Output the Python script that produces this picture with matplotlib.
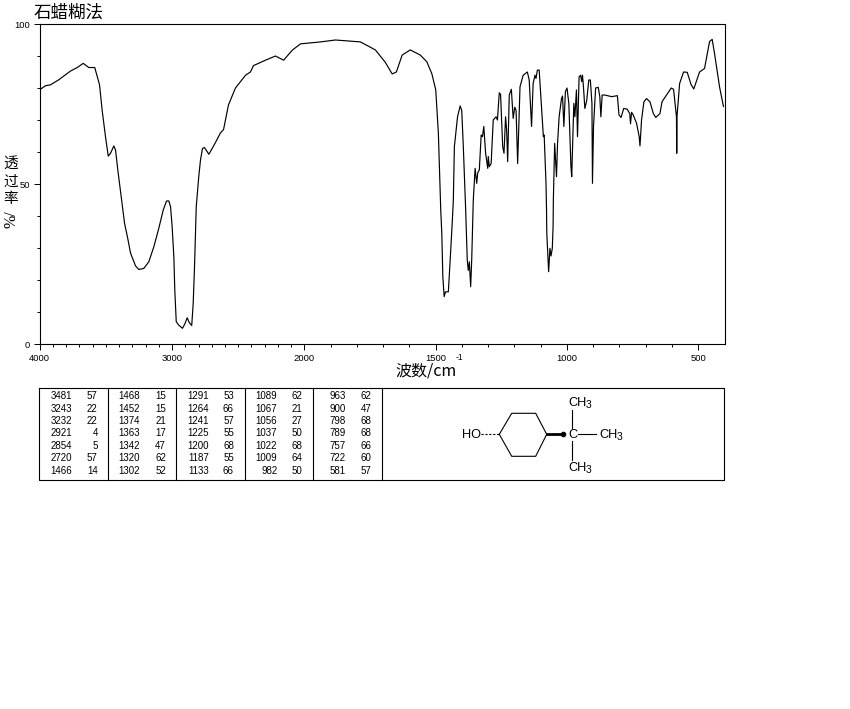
import numpy as np
import matplotlib
matplotlib.use("Agg")
import matplotlib.pyplot as plt

plt.rcParams['font.family'] = ['Liberation Sans', 'DejaVu Sans']
CJK = ['Noto Sans CJK SC', 'DejaVu Sans']

wavenumber = [4000,3955,3917,3857,3766,3715,3670,3628,3583,3547,3527,3502,3481,3464,3439,3426,3409,3383,3358,3334,
 3313,3275,3251,3213,3175,3137,3100,3066,3041,3024,3011,2999,2986,2979,2968,2949,2921,2904,2885,2870,
 2851,2840,2830,2817,2798,2785,2770,2755,2722,2697,2669,2634,2611,2574,2521,2445,2408,2385,2294,2219,
 2158,2090,2030,1939,1882,1787,1730,1692,1666,1650,1628,1597,1559,1534,1515,1500,1490,1481,1477,1473,
 1468,1463,1452,1445,1436,1433,1429,1417,1407,1401,1395,1386,1380,1376,1372,1367,1363,1357,1350,1344,
 1340,1334,1327,1322,1317,1310,1302,1300,1296,1289,1281,1270,1265,1258,1253,1245,1240,1234,1230,1226,
 1220,1212,1205,1199,1194,1188,1179,1167,1151,1144,1135,1129,1122,1118,1113,1106,1098,1090,1087,1080,
 1078,1077,1070,1065,1061,1056,1053,1052,1050,1047,1040,1036,1030,1021,1017,1012,1006,1000,993,985,
 982,974,970,964,961,960,954,948,944,941,937,932,925,917,911,905,903,899,891,881,
 875,871,866,856,830,808,802,794,784,771,761,758,754,748,735,725,722,716,707,697,
 684,671,662,646,638,603,594,583,582,581,571,556,542,527,517,495,476,457,447,438,
 419,404]
transmittance = [79.4,80.7,81,82.5,85.3,86.4,87.7,86.4,86.4,81,73,64.8,58.7,59.6,61.9,60.6,54.4,46,37.7,33,
 28.4,24.4,23.3,23.6,25.7,30.4,36.1,41.9,44.7,44.7,42.9,36.7,27.3,16.9,7,5.9,4.9,6.2,8.2,6.7,
 5.8,12.7,24.2,42.9,52.3,57.5,61.1,61.4,59.3,61.1,63.2,66,67,74.7,80,84,85,87,88.7,90,
 88.7,91.9,93.8,94.4,95,94.4,91.9,88,84.4,85,90.3,91.9,90.3,88.2,84.5,79.4,65.8,41.9,34.7,21,
 14.8,16.3,16.3,26.3,39.8,45,61.7,71,74.4,73,61.7,41.9,26.3,23,25.7,17.9,26.3,45,54.9,50.2,
 53.5,54.4,65.3,64.8,68,59.6,54.9,58.6,55.4,56.4,70,71,70,78.5,78,61.7,59.6,71,66.9,57,
 77.8,79.6,70.5,74,73,56.4,80.4,84,85,82.5,68,81.4,84,83,85.6,85.6,75.2,64.8,65.3,50.2,
 41.9,34.7,22.6,29.9,27.5,29.9,36.7,45,52.3,62.7,52.3,62.7,71,76.7,77.5,68,78.9,80,75.2,55.4,
 52.3,75.2,71,79.4,68,64.8,83.5,84,82,84,80,73.6,76,82.5,82.5,75.2,50.2,68,80,80.2,
 77.3,71,77.8,77.8,77.3,77.6,71.6,70.8,73.6,73.4,72,68.8,72.4,71.6,69,64.8,61.9,70,75.7,76.7,
 75.7,72,70.8,72,75.7,80,79.6,71,59.6,71,81.4,85,84.9,81,79.7,85,86.1,94.5,95.2,90.8,
 80.4,74.2]

peak_wavenumbers = [
 [3481,3243,3232,2921,2854,2720,1466],
 [1468,1452,1374,1363,1342,1320,1302],
 [1291,1264,1241,1225,1200,1187,1133],
 [1089,1067,1056,1037,1022,1009,982],
 [963,900,798,789,757,722,581]]
peak_values = [
 [57,22,22,4,5,57,14],
 [15,15,21,17,47,62,52],
 [53,66,57,55,68,55,66],
 [62,21,27,50,68,64,50],
 [62,47,68,68,66,60,57]]
x_labels = [4000,3000,2000,1500,1000,500]
y_labels = [0,50,100]

W, H = 850, 709
fig = plt.figure(figsize=(W/100, H/100), dpi=100, facecolor='white')
L, R, T, B = 39.5, 724.5, 24, 344
ax = fig.add_axes([L/W, 1-B/H, (R-L)/W, (B-T)/H])

knots_w = [400, 2000, 4000]
knots_p = [0.0, 420.0, 685.0]
def fwd(w):
    return np.interp(np.asarray(w, float), knots_w, knots_p)
def inv(p):
    return np.interp(np.asarray(p, float), knots_p, knots_w)
ax.set_xscale('function', functions=(fwd, inv))
ax.plot(wavenumber, transmittance, color='black', lw=0.85)
ax.set_xticks(x_labels)
ax.set_xticklabels([str(v) for v in x_labels], fontsize=6.8)
ax.set_xticks(list(range(500, 4000, 100)), minor=True)
ax.set_yticks(y_labels)
ax.set_yticklabels([str(v) for v in y_labels], fontsize=6.8)
ax.set_yticks(list(range(0, 100, 10)), minor=True)
ax.set_xlim(4000, 400)
ax.set_ylim(0, 100)
ax.tick_params(which='major', length=4, width=0.7, pad=3.0)
ax.tick_params(which='minor', length=2.5, width=0.7)
for s in ax.spines.values():
    s.set_linewidth(0.8)

# pixel-space overlay for annotations, table and structure
ov = fig.add_axes([0, 0, 1, 1], facecolor='none')
ov.set_xlim(0, W); ov.set_ylim(H, 0); ov.axis('off')

ov.text(34, 13, '石蜡糊法', family=CJK, fontsize=12.6, va='center', ha='left')
for ch, y in zip('透过率', [164, 182, 199]):
    ov.text(11, y, ch, family=CJK, fontsize=10.5, va='center', ha='center')
ov.text(12, 219, '%/', fontsize=11.5, rotation=90, va='center', ha='center', family=['Liberation Serif'])
ov.text(395, 371, '波数/cm', family=CJK, fontsize=11.5, va='center', ha='left')
ov.text(456, 357, '-1', fontsize=6.2, va='center', ha='left')

# table
top, bot = 387.5, 479.5
ov.plot([39.5, 724.5, 724.5, 39.5, 39.5], [top, top, bot, bot, top], color='k', lw=0.8)
for x in [108.5, 176.5, 245.5, 313.5, 382.5]:
    ov.plot([x, x], [top, bot], color='k', lw=0.8)
row_y = [396, 409, 421, 433.3, 445.7, 458.3, 470.7]
wn_right = [71.7, 140, 209.3, 277.3, 346]
val_right = [97.7, 166, 234, 302.7, 371.7]
for c in range(5):
    for r in range(7):
        ov.text(wn_right[c], row_y[r], str(peak_wavenumbers[c][r]), fontsize=7, ha='right', va='center')
        ov.text(val_right[c], row_y[r], str(peak_values[c][r]), fontsize=7, ha='right', va='center')

# structure
ring_x = [499.3, 511.7, 535.7, 546.7, 535.7, 511.7, 499.3]
ring_y = [434.3, 413.3, 413.3, 434.3, 456.3, 456.3, 434.3]
ov.plot(ring_x, ring_y, color='k', lw=0.8)
ov.plot([546.7, 563.3], [434.3, 434.3], color='k', lw=2)
ov.plot([563.3], [434.3], 'o', color='k', ms=3)
ov.plot([481, 499.3], [434.3, 434.3], color='k', lw=0.8, ls=(0, (2, 1.5)))
ov.plot([572.3, 572.3], [410, 428], color='k', lw=0.8)
ov.plot([572.3, 572.3], [441, 460], color='k', lw=0.8)
ov.plot([578, 596], [434.3, 434.3], color='k', lw=0.8)
ov.text(472, 434.5, 'HO', fontsize=9.2, ha='center', va='center')
ov.text(572.7, 434.5, 'C', fontsize=9.2, ha='center', va='center')
for x0, y0 in [(568.5, 402.5), (599.5, 435), (568.5, 468)]:
    ov.text(x0, y0, 'CH', fontsize=9.2, ha='left', va='center')
    ov.text(x0+17.5, y0+2, '3', fontsize=7.5, ha='left', va='center')

fig.savefig('out.png', dpi=100, facecolor='white')
